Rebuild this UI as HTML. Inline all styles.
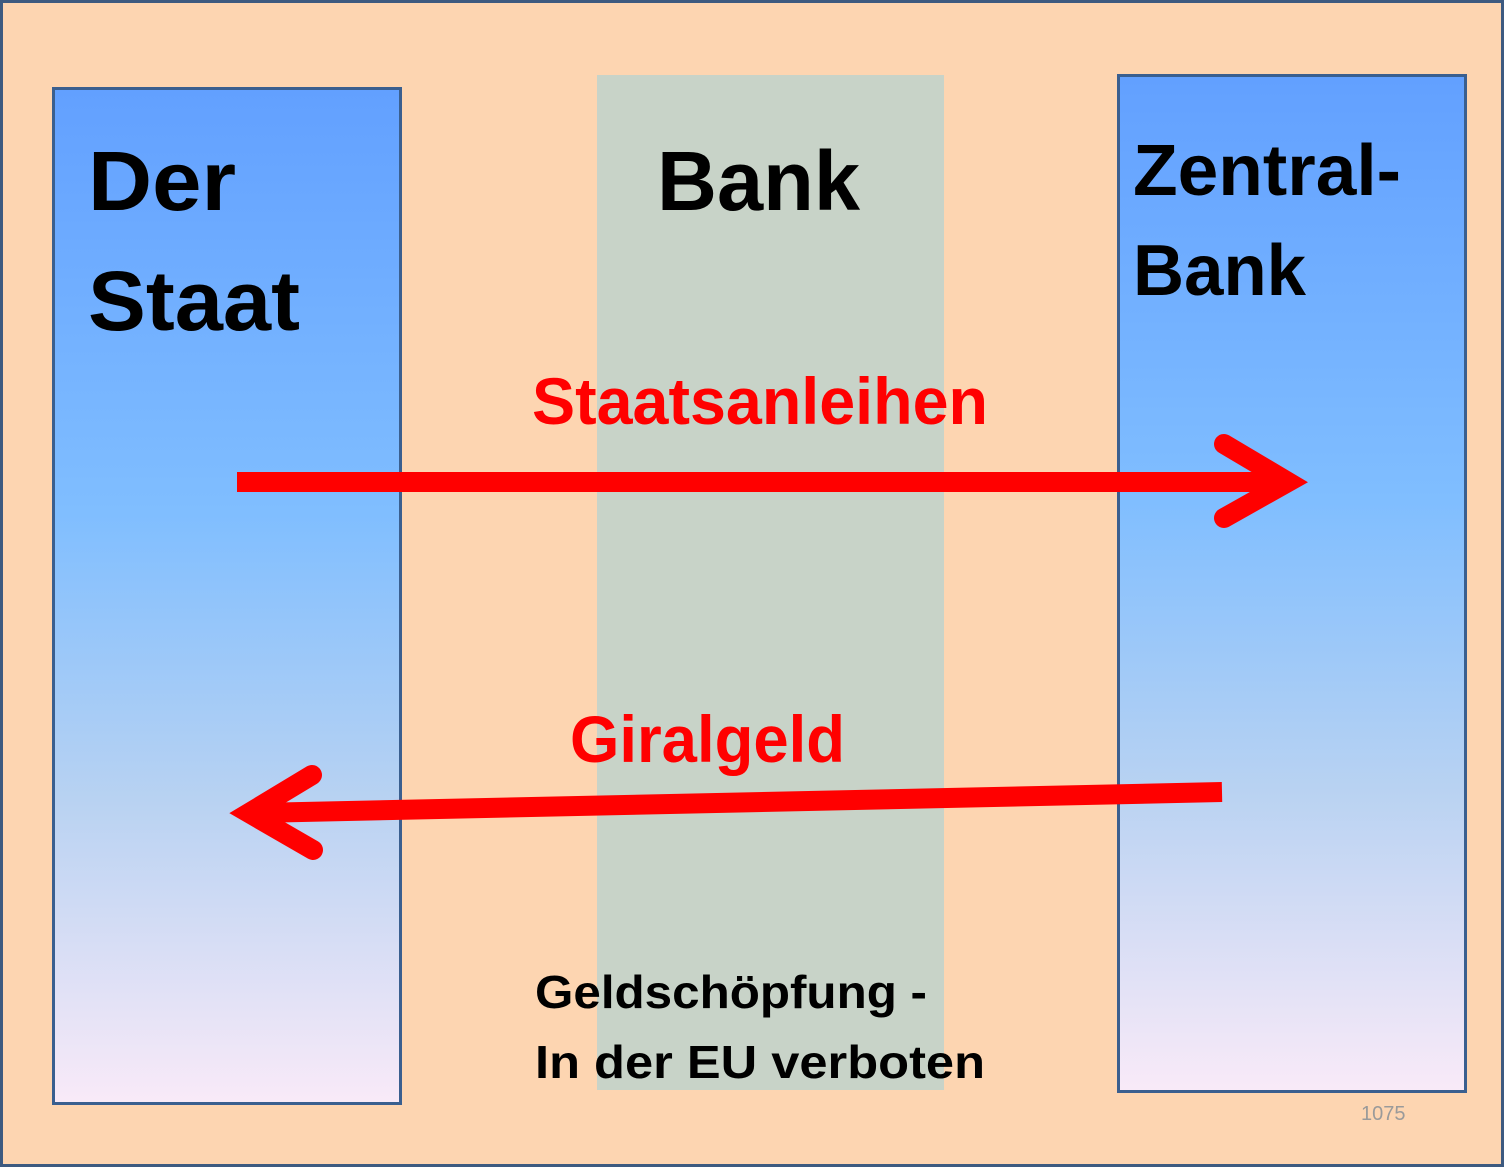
<!DOCTYPE html>
<html><head><meta charset="utf-8"><style>
html,body{margin:0;padding:0;background:#fdd5b1;}
svg{display:block;}
text{font-family:"Liberation Sans",sans-serif;font-weight:bold;}
</style></head><body>
<svg width="1504" height="1167" viewBox="0 0 1504 1167">
<defs>
<linearGradient id="g" x1="0" y1="0" x2="0" y2="1">
<stop offset="0" stop-color="#62a0ff"/>
<stop offset="0.42" stop-color="#80beff"/>
<stop offset="0.7" stop-color="#b8d2f2"/>
<stop offset="1" stop-color="#f9eaf8"/>
</linearGradient>
</defs>
<rect x="1.5" y="1.5" width="1501" height="1164" fill="#fdd5b1" stroke="#3d5a80" stroke-width="3"/>
<rect x="597" y="75" width="347" height="1015" fill="#c8d3c8"/>
<rect x="53.5" y="88.5" width="347" height="1015" fill="url(#g)" stroke="#3a5f8f" stroke-width="3"/>
<rect x="1118.5" y="75.5" width="347" height="1016" fill="url(#g)" stroke="#3a5f8f" stroke-width="3"/>
<text x="88" y="210" font-size="84" textLength="148" lengthAdjust="spacingAndGlyphs">Der</text>
<text x="88" y="330" font-size="84" textLength="212" lengthAdjust="spacingAndGlyphs">Staat</text>
<text x="657" y="210" font-size="84" textLength="203" lengthAdjust="spacingAndGlyphs">Bank</text>
<text x="1133" y="195" font-size="72" textLength="268" lengthAdjust="spacingAndGlyphs">Zentral-</text>
<text x="1133" y="295" font-size="72" textLength="173" lengthAdjust="spacingAndGlyphs">Bank</text>
<text x="532" y="424" font-size="66" fill="#ff0000" textLength="456" lengthAdjust="spacingAndGlyphs">Staatsanleihen</text>
<text x="570" y="762" font-size="66" fill="#ff0000" textLength="275" lengthAdjust="spacingAndGlyphs">Giralgeld</text>
<line x1="237" y1="482" x2="1288" y2="482" stroke="#ff0000" stroke-width="20"/>
<polyline points="1224,444 1288,482 1224,518" fill="none" stroke="#ff0000" stroke-width="20" stroke-linecap="round" stroke-linejoin="miter"/>
<line x1="1222" y1="792" x2="256" y2="813" stroke="#ff0000" stroke-width="20"/>
<polyline points="312,775 249,813 313,850" fill="none" stroke="#ff0000" stroke-width="20" stroke-linecap="round" stroke-linejoin="miter"/>
<text x="535" y="1008" font-size="46" textLength="392" lengthAdjust="spacingAndGlyphs">Geldschöpfung -</text>
<text x="535" y="1078" font-size="46" textLength="450" lengthAdjust="spacingAndGlyphs">In der EU verboten</text>
<text x="1361" y="1120" font-size="20" style="font-weight:normal" fill="#9a9a9a">1075</text>
</svg>
</body></html>
